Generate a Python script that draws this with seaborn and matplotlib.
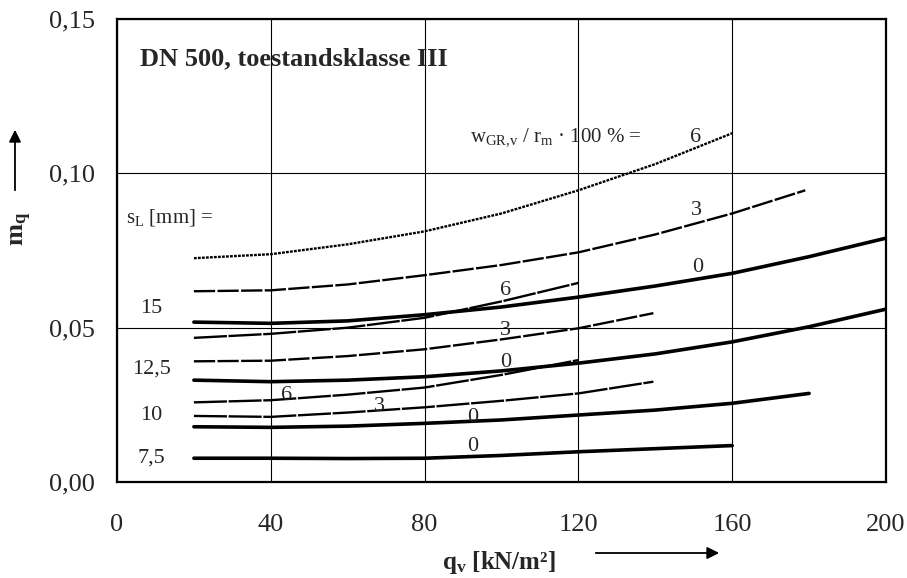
import numpy as np
import matplotlib
matplotlib.use('Agg')
import matplotlib.pyplot as plt
import seaborn as sns

# curves: s_L group -> w (0, 3, 6)
x_s15_w0 = [20, 40, 60, 80, 100, 120, 140, 160, 180, 200]
y_s15_w0 = [0.0518, 0.0514, 0.0522, 0.0542, 0.0567, 0.0599, 0.0635, 0.0676, 0.0730, 0.0790]
x_s15_w3 = [20, 40, 60, 80, 100, 120, 140, 160, 179]
y_s15_w3 = [0.0618, 0.0621, 0.0640, 0.0670, 0.0703, 0.0744, 0.0802, 0.0870, 0.0945]
x_s15_w6 = [20, 40, 60, 80, 100, 120, 140, 160]
y_s15_w6 = [0.0725, 0.0738, 0.0770, 0.0812, 0.0870, 0.0945, 0.1030, 0.1130]

x_s125_w0 = [20, 40, 60, 80, 100, 120, 140, 160, 180, 200]
y_s125_w0 = [0.0330, 0.0325, 0.0330, 0.0341, 0.0360, 0.0385, 0.0415, 0.0454, 0.0503, 0.0560]
x_s125_w3 = [20, 40, 60, 80, 100, 120, 139.5]
y_s125_w3 = [0.0391, 0.0393, 0.0408, 0.0430, 0.0462, 0.0498, 0.0547]
x_s125_w6 = [20, 40, 60, 80, 100, 120]
y_s125_w6 = [0.0467, 0.0480, 0.0500, 0.0532, 0.0585, 0.0645]

x_s10_w0 = [20, 40, 60, 80, 100, 120, 140, 160, 180]
y_s10_w0 = [0.0179, 0.0177, 0.0181, 0.0190, 0.0201, 0.0217, 0.0233, 0.0255, 0.0287]
x_s10_w3 = [20, 40, 60, 80, 100, 120, 139.5]
y_s10_w3 = [0.0214, 0.0211, 0.0225, 0.0242, 0.0263, 0.0287, 0.0325]
x_s10_w6 = [20, 40, 60, 80, 100, 120]
y_s10_w6 = [0.0258, 0.0265, 0.0283, 0.0306, 0.0347, 0.0395]

x_s75_w0 = [20, 40, 60, 80, 100, 120, 140, 160]
y_s75_w0 = [0.0077, 0.0077, 0.0076, 0.0077, 0.0086, 0.0098, 0.0108, 0.0118]

# curve labels (text, x, y)
curve_labels = [
    ('6', 150.6, 0.1117), ('3', 150.6, 0.0880), ('0', 151, 0.0696),
    ('6', 101, 0.0620), ('3', 101, 0.0492), ('0', 101, 0.0388),
    ('6', 44, 0.0281), ('3', 68.3, 0.0246), ('0', 92.5, 0.0210),
    ('0', 92.5, 0.0114),
]
sl_labels = ['15', '12,5', '10', '7,5']
sl_label_y = [0.0563, 0.0366, 0.0214, 0.0078]

x_ticks = [0, 40, 80, 120, 160, 200]
y_ticks = [0.0, 0.05, 0.10, 0.15]
y_tick_labels = ['0,00', '0,05', '0,10', '0,15']

sns.set_style('white')
plt.rcParams['font.family'] = ['Liberation Serif', 'DejaVu Serif']
plt.rcParams['mathtext.default'] = 'regular'

fig = plt.figure(figsize=(9.07, 5.78), dpi=100)
ax = fig.add_axes([117 / 907, 1 - 482 / 578, (886 - 117) / 907, (482 - 19) / 578])

thick = dict(color='black', linewidth=2.6, solid_capstyle='round')
dash3 = dict(color='black', linewidth=1.7, linestyle=(0, (9, 1)))
dot6 = dict(color='black', linewidth=1.7, linestyle=(0, (1.2, 0.5)))
dash6 = dict(color='black', linewidth=1.7, linestyle=(0, (14, 0.7)))

sns.lineplot(x=x_s15_w0, y=y_s15_w0, ax=ax, **thick)
sns.lineplot(x=x_s15_w3, y=y_s15_w3, ax=ax, **dash3)
sns.lineplot(x=x_s15_w6, y=y_s15_w6, ax=ax, **dot6)
sns.lineplot(x=x_s125_w0, y=y_s125_w0, ax=ax, **thick)
sns.lineplot(x=x_s125_w3, y=y_s125_w3, ax=ax, **dash3)
sns.lineplot(x=x_s125_w6, y=y_s125_w6, ax=ax, **dash6)
sns.lineplot(x=x_s10_w0, y=y_s10_w0, ax=ax, **thick)
sns.lineplot(x=x_s10_w3, y=y_s10_w3, ax=ax, **dash6)
sns.lineplot(x=x_s10_w6, y=y_s10_w6, ax=ax, **dash6)
sns.lineplot(x=x_s75_w0, y=y_s75_w0, ax=ax, **thick)

ax.set_xlim(0, 200)
ax.set_ylim(0, 0.15)
ax.set_xticks(x_ticks)
ax.set_xticklabels([str(t) for t in x_ticks])
ax.set_yticks(y_ticks)
ax.set_yticklabels(y_tick_labels)
ax.tick_params(axis='both', length=0, labelsize=19)
ax.tick_params(axis='x', pad=23)
ax.tick_params(axis='y', pad=16)
ax.grid(True, color='black', linewidth=0.8)
for sp in ax.spines.values():
    sp.set_color('black')
    sp.set_linewidth(1.6)
    sp.set_visible(True)
ax.set_xlabel('')
ax.set_ylabel('')

for txt, x, y in curve_labels:
    ax.text(x, y, txt, fontsize=16, ha='center', va='center')
for txt, y in zip(sl_labels, sl_label_y):
    ax.text(9, y, txt, fontsize=16, ha='center', va='center')

ax.text(2.3, 0.0858, '$s_L$ [mm] =', fontsize=15, ha='left', va='center')
ax.text(91.7, 0.1117, r'$w_{GR{,}v}$ / $r_m$ · 100 % =', fontsize=15, ha='left', va='center')
ax.text(6, 0.137, 'DN 500, toestandsklasse III', fontsize=19, fontweight='bold',
        ha='left', va='center')

# axis titles with arrows
fig.text(22 / 907, 1 - 229 / 578, '$m_q$', fontsize=19, fontweight='bold',
         rotation=90, ha='center', va='center')
fig.text(499 / 907, 1 - 563 / 578, '$q_v$ [kN/m²]', fontsize=18, fontweight='bold',
         ha='center', va='center')
fig.add_artist(matplotlib.patches.FancyArrowPatch(
    (15 / 907, 1 - 193 / 578), (15 / 907, 1 - 127 / 578), transform=fig.transFigure,
    arrowstyle='-|>', mutation_scale=18, color='black', linewidth=1.3))
fig.add_artist(matplotlib.patches.FancyArrowPatch(
    (593 / 907, 1 - 553 / 578), (722 / 907, 1 - 553 / 578), transform=fig.transFigure,
    arrowstyle='-|>', mutation_scale=18, color='black', linewidth=1.3))

fig.savefig('out.png', dpi=100)
